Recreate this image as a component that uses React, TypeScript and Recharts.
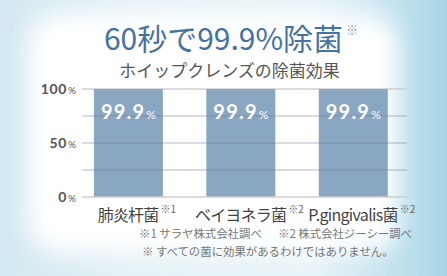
import React from "react";
import { BarChart, Bar, XAxis, YAxis, CartesianGrid, ReferenceLine, LabelList } from "recharts";

const categories = ["肺炎杆菌", "ベイヨネラ菌", "P.gingivalis菌"];
const notes = ["※1", "※2", "※2"];
const values = [99.9, 99.9, 99.9];
const yTicks = [0, 50, 100];
const innerLines = [25, 50, 75];

const data = categories.map((name, i) => ({ idx: i, name, note: notes[i], value: values[i] }));

const JP = '"Noto Sans CJK JP", "Noto Sans", sans-serif';
const NUM = 'Lato, "Noto Sans", sans-serif';

let canvasCtx: CanvasRenderingContext2D | null = null;
function measure(text: string, font: string, spacing = 0): number {
  if (!canvasCtx) canvasCtx = document.createElement("canvas").getContext("2d");
  if (!canvasCtx) return text.length * 14;
  canvasCtx.font = font;
  return canvasCtx.measureText(text).width + spacing * text.length;
}

const YTick = (props: any) => {
  const { x, y, payload } = props;
  return (
    <text x={x + 2} y={y + 5} textAnchor="end" fill="#555" fontFamily={NUM}>
      <tspan fontSize={14} fontWeight={700} letterSpacing={0.6}>{payload.value}</tspan>
      <tspan fontSize={10} dx={1}>%</tspan>
    </text>
  );
};

const XTick = (props: any) => {
  const { x, y, payload } = props;
  const d = data[Math.round(payload.value)];
  if (!d) return null;
  const isLatin = /^[A-Za-z]/.test(d.name);
  const spacing = isLatin ? -0.7 : -0.8;
  const w = measure(d.name, `16px ${JP}`, spacing);
  return (
    <g>
      <text x={x} y={y + 16} textAnchor="middle" fontSize={16} fill="#444" fontFamily={JP} letterSpacing={spacing}>
        {d.name}
      </text>
      <text x={x + w / 2 + 2} y={y + 8} fontSize={10} fill="#666" fontFamily={JP}>
        {d.note}
      </text>
    </g>
  );
};

const BarLabel = (props: any) => {
  const { x, y, width, value } = props;
  return (
    <text x={x + width / 2} y={y + 30} textAnchor="middle" fill="#fff" fontFamily={NUM}>
      <tspan fontSize={20} fontWeight={700} letterSpacing={1.2}>{value}</tspan>
      <tspan fontSize={12} dx={1}>%</tspan>
    </text>
  );
};

const noteStyle: React.CSSProperties = {
  position: "absolute",
  fontFamily: JP,
  fontSize: 11.4,
  color: "#777",
  lineHeight: "13px",
  whiteSpace: "pre",
};

export default function App() {
  return (
    <div
      style={{
        position: "absolute",
        left: 0,
        top: 0,
        width: 447,
        height: 276,
        overflow: "hidden",
        background: "linear-gradient(to right, #d3e8f1 0%, #e6f2f6 30%, #e9f4f8 70%, #b4dbea 95%, #a7d3e6 100%)",
      }}
    >
      <div
        style={{
          position: "absolute",
          left: 28,
          top: 14,
          width: 370,
          height: 238,
          borderRadius: 30,
          background: "#fff",
          filter: "blur(12px)",
        }}
      />
      <div
        style={{
          position: "absolute",
          left: 0,
          top: 17,
          width: 447,
          textAlign: "center",
          fontFamily: JP,
          color: "#4472a2",
          fontSize: 30,
          lineHeight: "40px",
          whiteSpace: "nowrap",
        }}
      >
        <span style={{ position: "relative", left: 0 }}>
          60秒で99.9%除菌
          <span style={{ position: "absolute", left: "100%", marginLeft: 3, top: -5, fontSize: 12, color: "#7f9ab5" }}>※</span>
        </span>
      </div>
      <div
        style={{
          position: "absolute",
          left: 0,
          top: 58,
          width: 447,
          textAlign: "center",
          fontFamily: JP,
          color: "#555",
          fontSize: 17,
          lineHeight: "24px",
          whiteSpace: "nowrap",
        }}
      >
        <span style={{ position: "relative", left: 6 }}>ホイップクレンズの除菌効果</span>
      </div>
      <div style={{ position: "absolute", left: 0, top: 0 }}>
        <BarChart
          width={447}
          height={276}
          data={data}
          margin={{ top: 89, right: 40, bottom: 49, left: 0 }}
        >
          <CartesianGrid horizontal vertical={false} stroke="#cfcfcf" strokeWidth={1.5} horizontalValues={[100]} />
          <XAxis
            dataKey="idx"
            type="number"
            domain={[-0.41, 2.48]}
            allowDataOverflow
            ticks={[0, 1, 2]}
            tick={<XTick />}
            tickLine={false}
            axisLine={{ stroke: "#cfcfcf", strokeWidth: 1.5 }}
            height={30}
            interval={0}
          />
          <YAxis
            width={82}
            domain={[0, 100]}
            ticks={yTicks}
            tick={<YTick />}
            tickLine={false}
            axisLine={false}
          />
          <Bar dataKey="value" fill="#89a6c2" barSize={69} isAnimationActive={false}>
            <LabelList dataKey="value" content={<BarLabel />} />
          </Bar>
          {innerLines.map((v) => (
            <ReferenceLine key={v} y={v} stroke="#6e7390" strokeOpacity={0.5} strokeWidth={1} />
          ))}
        </BarChart>
      </div>
      <div style={{ ...noteStyle, left: 139, top: 227 }}>{"※1 サラヤ株式会社調べ"}</div>
      <div style={{ ...noteStyle, left: 278, top: 227 }}>{"※2 株式会社ジーシー調べ"}</div>
      <div style={{ ...noteStyle, left: 142, top: 245 }}>{"※ すべての菌に効果があるわけではありません。"}</div>
    </div>
  );
}
